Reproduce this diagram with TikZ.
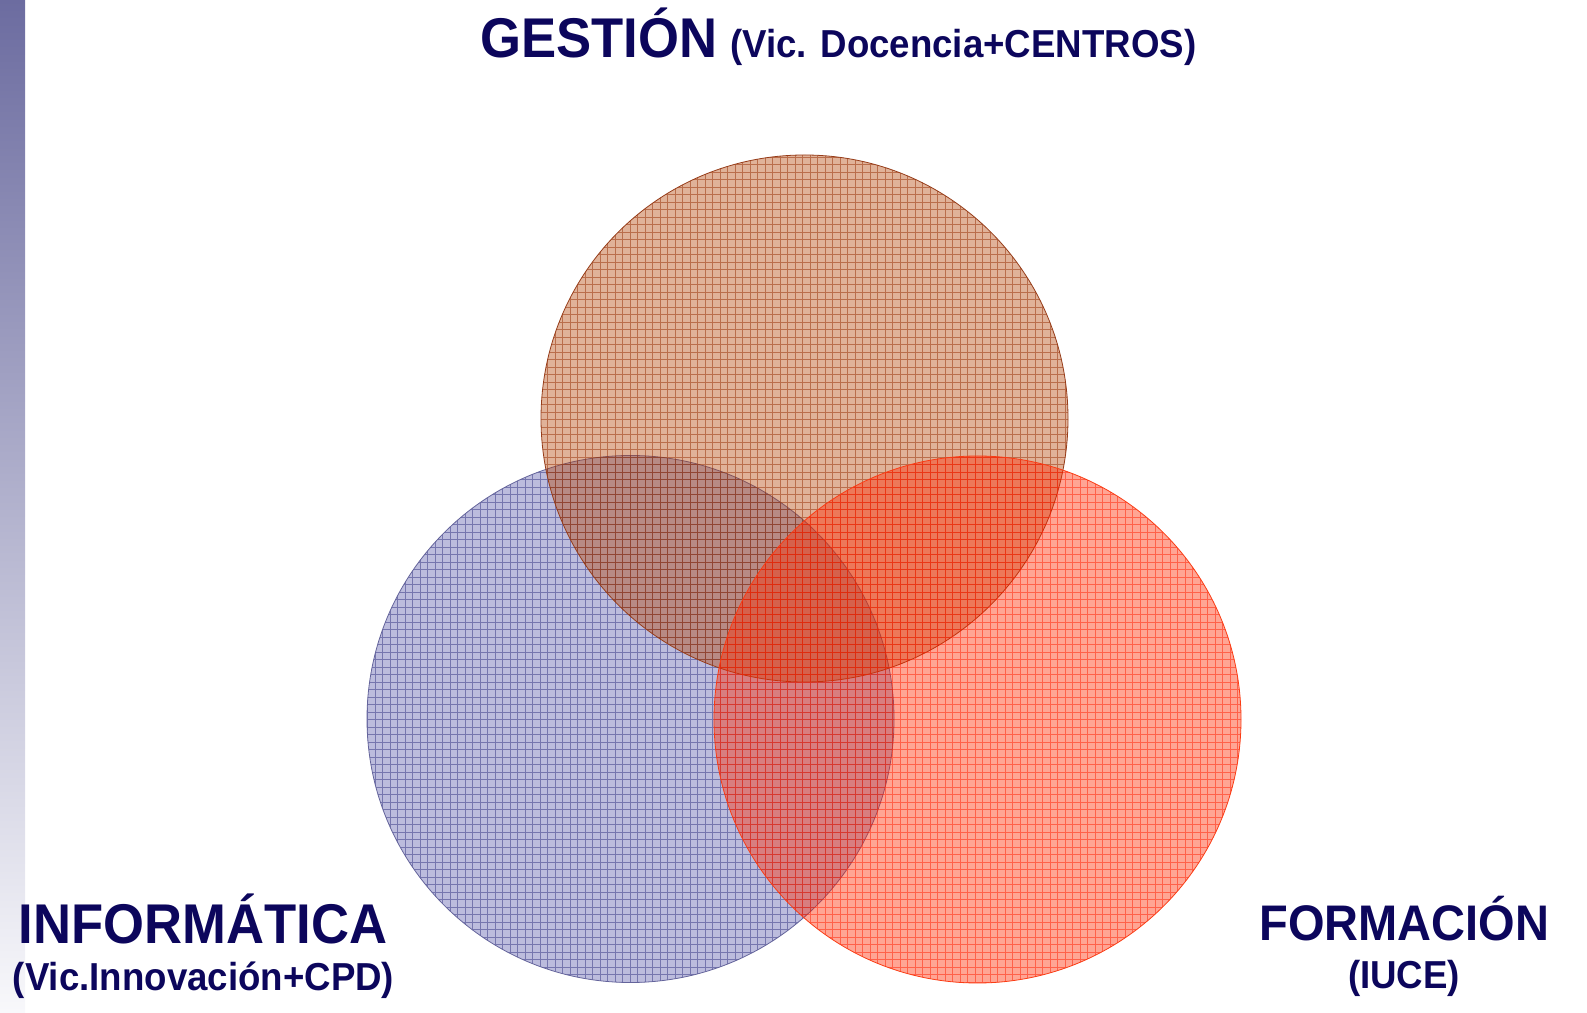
\documentclass[tikz,border=0pt]{standalone}
\usepackage{fontspec}
\usetikzlibrary{calc}
\setmainfont{Liberation Sans}
\definecolor{txt}{RGB}{12,6,92}
\definecolor{barTop}{RGB}{108,108,160}
\definecolor{barBot}{RGB}{248,248,251}
\definecolor{gFill}{RGB}{178,62,0}
\definecolor{gLine}{RGB}{150,45,0}
\definecolor{gEdge}{RGB}{150,60,25}
\definecolor{iFill}{RGB}{80,80,165}
\definecolor{iLine}{RGB}{20,20,110}
\definecolor{iEdge}{RGB}{100,100,155}
\definecolor{fFill}{RGB}{255,40,0}
\definecolor{fLine}{RGB}{255,30,0}
\definecolor{fEdge}{RGB}{250,60,20}
\tikzset{
  big/.style={font=\fontsize{56}{60}\selectfont\bfseries, text=txt, inner sep=0pt},
  mid/.style={font=\fontsize{50}{54}\selectfont\bfseries, text=txt, inner sep=0pt},
  small/.style={font=\fontsize{39}{44}\selectfont\bfseries, text=txt, inner sep=0pt},
  gridlines/.style={line width=0.55pt, step=7.5pt},
}
\newcommand{\cond}[1]{\scalebox{0.94}[1]{#1}}
\begin{document}
\begin{tikzpicture}[x=1pt,y=1pt]
\useasboundingbox (0,0) rectangle (1587,1012);
% left gradient bar
\shade[top color=barTop, bottom color=barBot] (0,0) rectangle (25,1012);
% circle centres
\coordinate (gc) at (804.5,593.5);
\coordinate (ic) at (630.5,293);
\coordinate (fc) at (977.5,292.5);
\def\R{263.5}
% INFORMATICA circle
\fill[iFill, fill opacity=0.38] (ic) circle (\R);
\begin{scope}
  \clip (ic) circle (\R);
  \draw[iLine, draw opacity=0.42, gridlines] ($(ic)+(-270,-270)$) grid ($(ic)+(270,270)$);
\end{scope}
\draw[iEdge, line width=0.8pt] (ic) circle (\R);
% GESTION circle
\fill[gFill, fill opacity=0.4] (gc) circle (\R);
\begin{scope}
  \clip (gc) circle (\R);
  \draw[gLine, draw opacity=0.5, gridlines] ($(gc)+(-270,-270)$) grid ($(gc)+(270,270)$);
\end{scope}
\draw[gEdge, line width=0.8pt] (gc) circle (\R);
% FORMACION circle
\fill[fFill, fill opacity=0.42] (fc) circle (\R);
\begin{scope}
  \clip (fc) circle (\R);
  \draw[fLine, draw opacity=0.5, gridlines] ($(fc)+(-270,-270)$) grid ($(fc)+(270,270)$);
\end{scope}
\draw[fEdge, line width=0.8pt] (fc) circle (\R);
% labels
\node[big, anchor=base west] (gest) at (480,954) {\cond{GESTIÓN}};
\node[small, anchor=base west] (gestsub) at (730,954) {\cond{(Vic. Docencia+CENTROS)}};
\node[big, anchor=base] (inf) at (203,69) {\cond{INFORMÁTICA}};
\node[small, anchor=base] (infsub) at (203.5,22) {\cond{(Vic.Innovación+CPD)}};
\node[mid, anchor=base] (form) at (1404.5,72) {\cond{FORMACIÓN}};
\node[small, anchor=base] (formsub) at (1404,24) {\cond{(IUCE)}};
\end{tikzpicture}
\end{document}
